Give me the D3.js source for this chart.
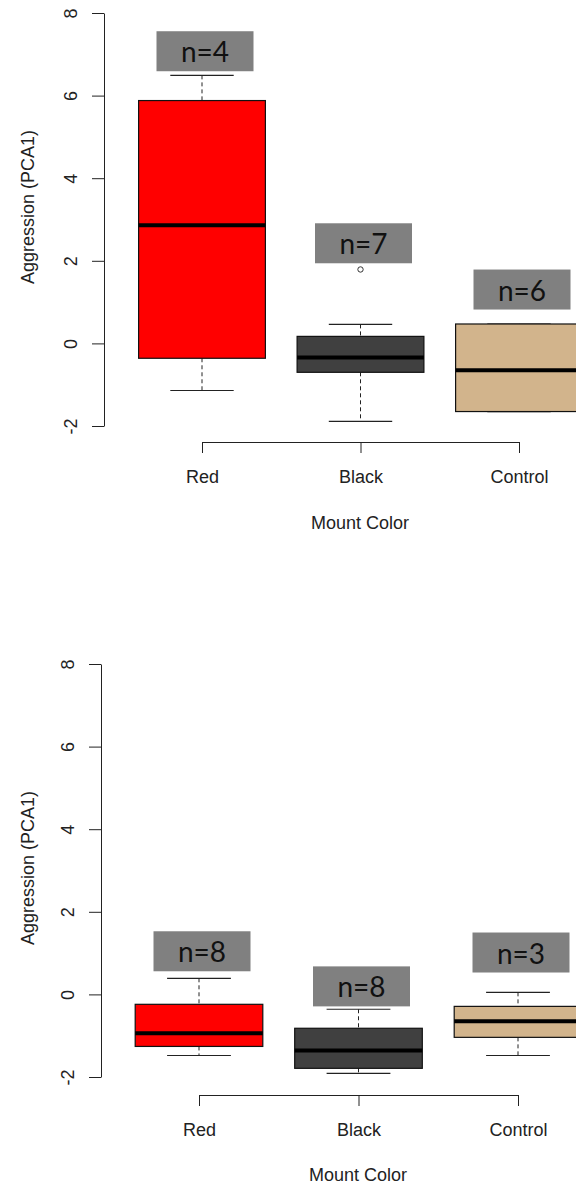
<!DOCTYPE html>
<html>
<head>
<meta charset="utf-8">
<script src="https://cdn.jsdelivr.net/npm/d3@7"></script>
<style>
  html, body { margin: 0; padding: 0; background: #fff; }
  svg { display: block; }
  text { font-family: "Liberation Sans", Arial, sans-serif; fill: #222; }
  .tag text { font-family: Lato, "Open Sans", sans-serif; fill: #111; }
</style>
</head>
<body>
<svg id="chart" width="576" height="1185"></svg>
<script>
// Groups on the x axis
const categories = ["Red", "Black", "Control"];
const yTicks = [-2, 0, 2, 4, 6, 8];

// Upper plot: five-number summaries per mount colour
const upperLow    = [-1.14, -1.89, -1.65];
const upperQ1     = [-0.36, -0.70, -1.65];
const upperMedian = [ 2.86, -0.34, -0.65];
const upperQ3     = [ 5.88,  0.17,  0.47];
const upperHigh   = [ 6.49,  0.46,  0.47];
const upperOutliers = [[], [1.79], []];
const upperCounts = [4, 7, 6];
// value at which each count tag sits
const upperTagAt  = [6.59, 1.94, 0.82];

// Lower plot
const lowerLow    = [-1.48, -1.91, -1.48];
const lowerQ1     = [-1.26, -1.79, -1.04];
const lowerMedian = [-0.94, -1.36, -0.65];
const lowerQ3     = [-0.24, -0.82, -0.29];
const lowerHigh   = [ 0.39, -0.36,  0.05];
const lowerOutliers = [[], [], []];
const lowerCounts = [8, 8, 3];
const lowerTagAt  = [0.56, -0.29, 0.53];

const boxFills = ["#ff0000", "#404040", "#d2b48c"];

const svg = d3.select("#chart");

const panels = [
  { low: upperLow, q1: upperQ1, med: upperMedian, q3: upperQ3, high: upperHigh,
    out: upperOutliers, n: upperCounts, tagAt: upperTagAt,
    yRange: [426, 13], xRange: [202, 519], yAxisX: 104, xAxisY: 442,
    titleY: 207, xTitleX: 360, xTitleY: 529 },
  { low: lowerLow, q1: lowerQ1, med: lowerMedian, q3: lowerQ3, high: lowerHigh,
    out: lowerOutliers, n: lowerCounts, tagAt: lowerTagAt,
    yRange: [1077, 664], xRange: [199, 518], yAxisX: 101, xAxisY: 1095,
    titleY: 868, xTitleX: 358, xTitleY: 1181 }
];

function drawPanel(p) {
  const y = d3.scaleLinear().domain([-2, 8]).range(p.yRange);
  const x = d3.scalePoint().domain(categories).range(p.xRange);
  const bw = x.step() * 0.8;
  const g = svg.append("g");

  // y axis with rotated tick labels
  const ya = g.append("g")
    .attr("transform", `translate(${p.yAxisX},0)`)
    .call(d3.axisLeft(y).tickValues(yTicks).tickSize(12).tickSizeOuter(0)
      .tickFormat(d => String(d)));
  ya.selectAll("path.domain, line").attr("stroke", "#222");
  ya.selectAll("text")
    .attr("x", null).attr("dy", null)
    .attr("font-size", 18).attr("font-family", "Liberation Sans, Arial, sans-serif")
    .attr("fill", "#222")
    .attr("text-anchor", "middle")
    .attr("transform", "translate(-27.5,0) rotate(-90)");

  // x axis
  const xa = g.append("g")
    .attr("transform", `translate(0,${p.xAxisY})`)
    .call(d3.axisBottom(x).tickSize(11).tickSizeOuter(0));
  xa.selectAll("path.domain, line").attr("stroke", "#222");
  xa.selectAll("text")
    .attr("y", 28)
    .attr("font-size", 18).attr("font-family", "Liberation Sans, Arial, sans-serif")
    .attr("fill", "#222");

  // axis titles
  g.append("text")
    .attr("transform", `translate(33.5,${p.titleY}) rotate(-90)`)
    .attr("text-anchor", "middle").attr("font-size", 18)
    .text("Aggression (PCA1)");
  g.append("text")
    .attr("x", p.xTitleX).attr("y", p.xTitleY)
    .attr("text-anchor", "middle").attr("font-size", 18)
    .text("Mount Color");

  // boxes
  categories.forEach((c, i) => {
    const cx = x(c);
    const bg = g.append("g");
    // whiskers (dashed) and caps
    bg.append("line")
      .attr("x1", cx).attr("x2", cx).attr("y1", y(p.high[i])).attr("y2", y(p.q3[i]))
      .attr("stroke", "#222").attr("stroke-dasharray", "4,3");
    bg.append("line")
      .attr("x1", cx).attr("x2", cx).attr("y1", y(p.q1[i])).attr("y2", y(p.low[i]))
      .attr("stroke", "#222").attr("stroke-dasharray", "4,3");
    [p.high[i], p.low[i]].forEach(v => {
      bg.append("line")
        .attr("x1", cx - bw / 4).attr("x2", cx + bw / 4)
        .attr("y1", y(v)).attr("y2", y(v))
        .attr("stroke", "#222").attr("stroke-width", 1.2);
    });
    bg.append("rect")
      .attr("x", cx - bw / 2).attr("width", bw)
      .attr("y", y(p.q3[i])).attr("height", y(p.q1[i]) - y(p.q3[i]))
      .attr("fill", boxFills[i]).attr("stroke", "#111").attr("stroke-width", 1.2);
    bg.append("line")
      .attr("x1", cx - bw / 2).attr("x2", cx + bw / 2)
      .attr("y1", y(p.med[i])).attr("y2", y(p.med[i]))
      .attr("stroke", "#000").attr("stroke-width", 4);
    p.out[i].forEach(v => {
      bg.append("circle")
        .attr("cx", cx).attr("cy", y(v)).attr("r", 2.7)
        .attr("fill", "none").attr("stroke", "#333").attr("stroke-width", 1);
    });

    // count tag
    const tg = g.append("g").attr("class", "tag");
    const ty = y(p.tagAt[i]);
    tg.append("rect")
      .attr("x", cx + 3 - 48.5).attr("y", ty - 40)
      .attr("width", 97).attr("height", 40)
      .attr("fill", "#808080");
    tg.append("text")
      .attr("x", cx + 3).attr("y", ty - 9)
      .attr("text-anchor", "middle").attr("font-size", 28)
      .text(`n=${p.n[i]}`);
  });
}

panels.forEach(drawPanel);
</script>
</body>
</html>
